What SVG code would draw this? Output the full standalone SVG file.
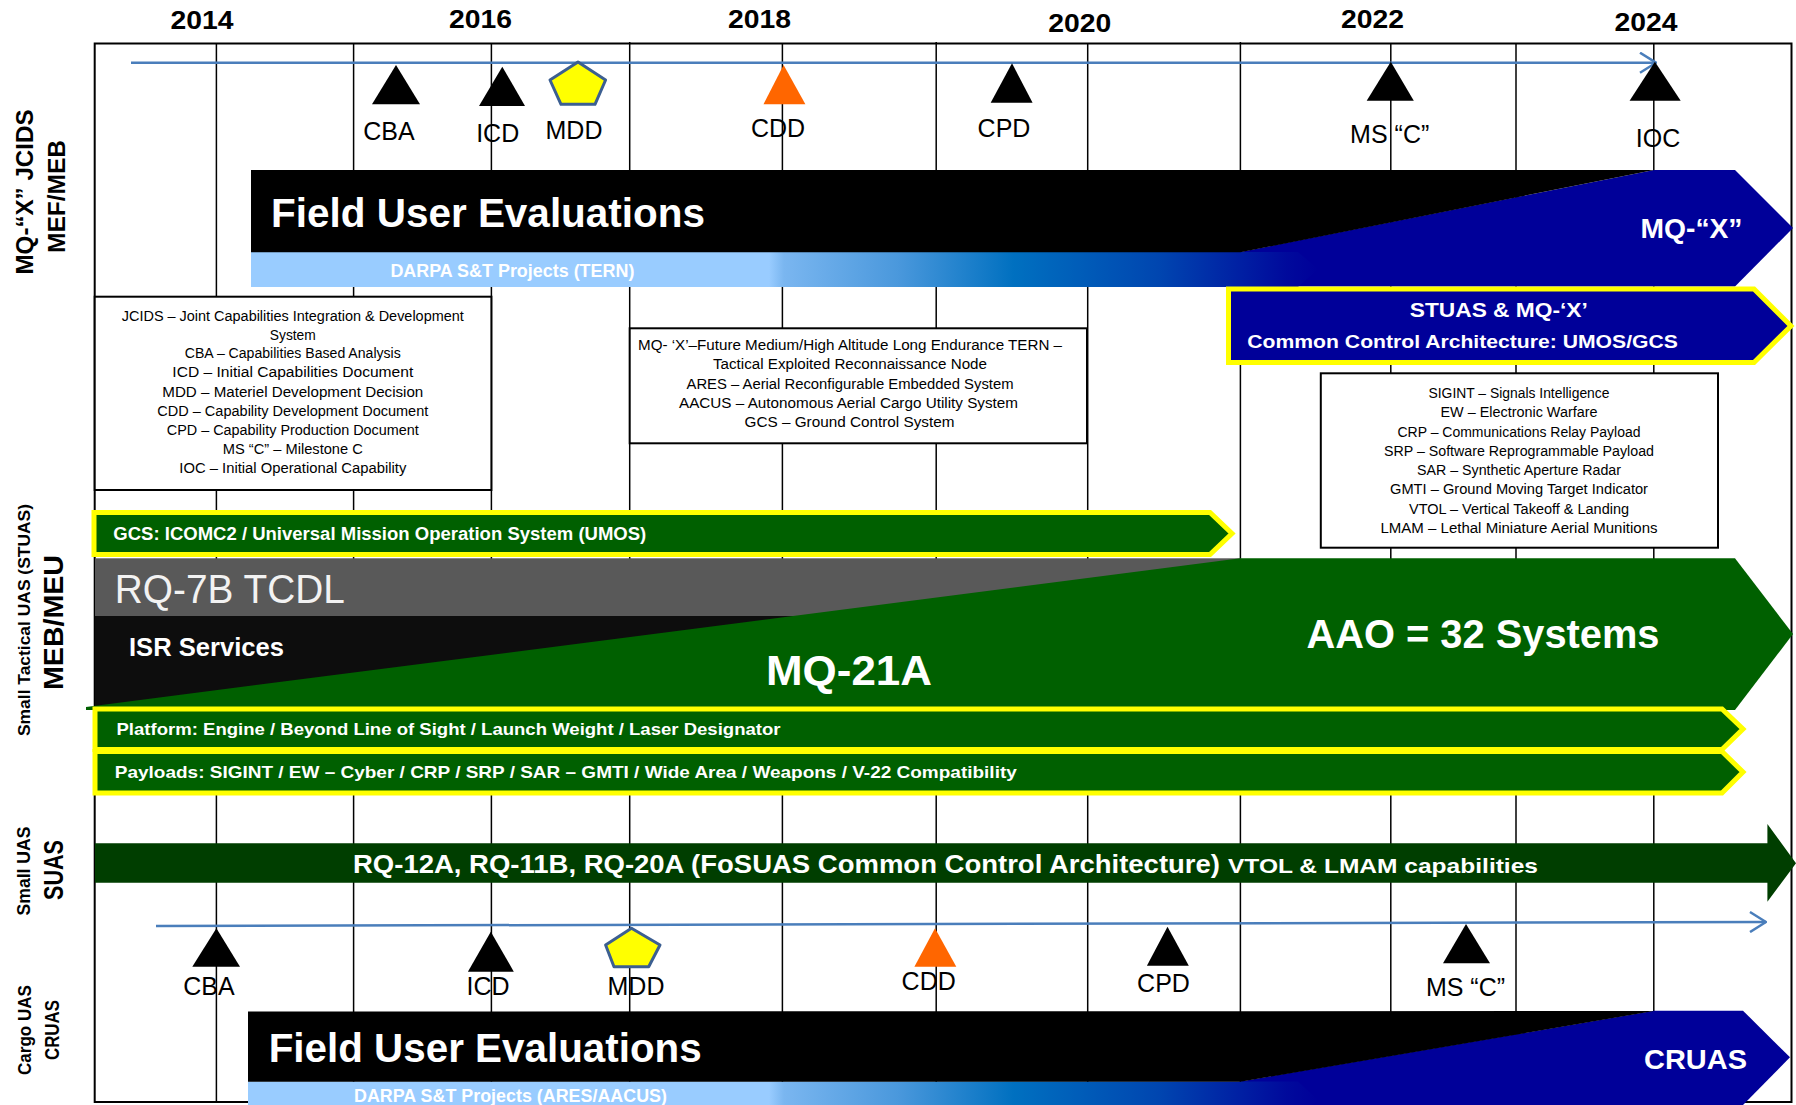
<svg xmlns="http://www.w3.org/2000/svg" width="1796" height="1105" viewBox="0 0 1796 1105">
<style>
text{font-family:"Liberation Sans",Arial,sans-serif}
.grid{stroke:#000;stroke-width:1.5}
.frame{stroke:#000;stroke-width:2;fill:none}
.tl{stroke:#4a7ebb;stroke-width:2.5;fill:none}
.ms{fill:#000}
.mso{fill:#ff6600}
.mdd{fill:#ffff00;stroke:#3c5f91;stroke-width:3;stroke-linejoin:round}
.lbl{font-size:25px;text-anchor:middle;fill:#000}
.yr{font-size:26px;font-weight:bold;text-anchor:middle;fill:#000}
.box{fill:#fff;stroke:#000;stroke-width:2}
.bt{font-size:14px;text-anchor:middle;fill:#000}
.ybar{stroke:#ffff00;stroke-width:5;fill:#006000}
.wb{fill:#fff;font-weight:bold}
.side{font-weight:bold;fill:#000;text-anchor:middle}
</style>
<defs>
<marker id="arr" viewBox="0 0 18 22" refX="17" refY="11" markerWidth="18" markerHeight="22" markerUnits="userSpaceOnUse" orient="auto">
<path d="M1,1 L17,11 L1,21" fill="none" stroke="#4a7ebb" stroke-width="2.5"/>
</marker>
<linearGradient id="darpa" gradientUnits="userSpaceOnUse" x1="250" y1="0" x2="1318" y2="0">
<stop offset="0" stop-color="#99ccff"/>
<stop offset="0.486" stop-color="#99ccff"/>
<stop offset="0.50" stop-color="#7ab6f0"/>
<stop offset="0.607" stop-color="#4a98dc"/>
<stop offset="0.715" stop-color="#0070c0"/>
<stop offset="0.85" stop-color="#0046b0"/>
<stop offset="0.97" stop-color="#000a9c"/>
<stop offset="1" stop-color="#000099"/>
</linearGradient>
</defs>
<rect width="1796" height="1105" fill="#fff"/>

<g id="grid">
<line class="grid" x1="216.4" y1="44" x2="216.4" y2="1102"/>
<line class="grid" x1="353.6" y1="44" x2="353.6" y2="1102"/>
<line class="grid" x1="491.4" y1="44" x2="491.4" y2="1102"/>
<line class="grid" x1="629.7" y1="42" x2="629.7" y2="1102"/>
<line class="grid" x1="782.4" y1="44" x2="782.4" y2="1102"/>
<line class="grid" x1="936.2" y1="42" x2="936.2" y2="1102"/>
<line class="grid" x1="1087.7" y1="44" x2="1087.7" y2="1102"/>
<line class="grid" x1="1240.4" y1="42" x2="1240.4" y2="1102"/>
<line class="grid" x1="1390.8" y1="44" x2="1390.8" y2="1102"/>
<line class="grid" x1="1516" y1="44" x2="1516" y2="1102"/>
<line class="grid" x1="1653.8" y1="44" x2="1653.8" y2="1102"/>
<rect class="frame" x="94.7" y="43.5" width="1696.8" height="1058.5"/>
</g>

<g id="years">
<text class="yr" x="202" y="29" textLength="63" lengthAdjust="spacingAndGlyphs">2014</text>
<text class="yr" x="480.5" y="28" textLength="63" lengthAdjust="spacingAndGlyphs">2016</text>
<text class="yr" x="759.5" y="28" textLength="63" lengthAdjust="spacingAndGlyphs">2018</text>
<text class="yr" x="1079.7" y="31.7" textLength="63" lengthAdjust="spacingAndGlyphs">2020</text>
<text class="yr" x="1372.5" y="28.3" textLength="63" lengthAdjust="spacingAndGlyphs">2022</text>
<text class="yr" x="1646" y="30.7" textLength="63" lengthAdjust="spacingAndGlyphs">2024</text>
</g>

<g id="side-labels">
<text class="side" x="33" y="192" font-size="24" transform="rotate(-90 33 192)" textLength="165" lengthAdjust="spacingAndGlyphs">MQ-“X” JCIDS</text>
<text class="side" x="65" y="196.5" font-size="24" transform="rotate(-90 65 196.5)" textLength="113" lengthAdjust="spacingAndGlyphs">MEF/MEB</text>
<text class="side" x="29.5" y="620" font-size="17" transform="rotate(-90 29.5 620)" textLength="232" lengthAdjust="spacingAndGlyphs">Small Tactical UAS (STUAS)</text>
<text class="side" x="63.3" y="622.5" font-size="28" transform="rotate(-90 63.3 622.5)" textLength="135" lengthAdjust="spacingAndGlyphs">MEB/MEU</text>
<text class="side" x="29.5" y="871" font-size="17.5" transform="rotate(-90 29.5 871)" textLength="89" lengthAdjust="spacingAndGlyphs">Small UAS</text>
<text class="side" x="63" y="870" font-size="27" transform="rotate(-90 63 870)" textLength="60" lengthAdjust="spacingAndGlyphs">SUAS</text>
<text class="side" x="31" y="1030" font-size="18" transform="rotate(-90 31 1030)" textLength="90" lengthAdjust="spacingAndGlyphs">Cargo UAS</text>
<text class="side" x="58.5" y="1030" font-size="21" transform="rotate(-90 58.5 1030)" textLength="60" lengthAdjust="spacingAndGlyphs">CRUAS</text>
</g>

<g id="connectors">
<line class="tl" x1="131" y1="62.7" x2="1656" y2="62.7" marker-end="url(#arr)"/>
<line class="tl" x1="156" y1="926" x2="1766" y2="922" marker-end="url(#arr)"/>
</g>

<g id="mqx-milestones">
<polygon class="ms" points="396,65 372,104.3 420,104.3"/>
<polygon class="ms" points="502.3,66.7 479,106 525,106"/>
<polygon class="mdd" points="578,62 605.6,80 595,104.3 561,104.3 550,80"/>
<polygon class="mso" points="783.6,65 763.5,104.3 805.4,104.3"/>
<polygon class="ms" points="1012,63.3 990.7,102.7 1032.6,102.7"/>
<polygon class="ms" points="1390.8,61.7 1366.7,100.7 1413.8,100.7"/>
<polygon class="ms" points="1654.9,61.7 1629.6,100.7 1680.7,100.7"/>
<text class="lbl" x="389" y="140">CBA</text>
<text class="lbl" x="497.7" y="141.7">ICD</text>
<text class="lbl" x="574" y="139.3">MDD</text>
<text class="lbl" x="778" y="136.7">CDD</text>
<text class="lbl" x="1004" y="136.7">CPD</text>
<text class="lbl" x="1389.7" y="143.3">MS “C”</text>
<text class="lbl" x="1658" y="147.3">IOC</text>
</g>

<g id="mqx-bar">
<polygon fill="#000099" points="1240,252 1654,170 1735,170 1793,228 1735,286.5 1240,286.5"/>
<polygon fill="url(#darpa)" points="251,252 1298,252 1318,269 1298,287 251,287"/>
<polygon fill="#000" points="251,170 1654,170 1240.4,252.3 251,252.3"/>
<text class="wb" x="271" y="226.7" font-size="40" textLength="434" lengthAdjust="spacingAndGlyphs">Field User Evaluations</text>
<text class="wb" x="390.4" y="276.7" font-size="18" textLength="244" lengthAdjust="spacingAndGlyphs">DARPA S&amp;T Projects (TERN)</text>
<text class="wb" x="1640.5" y="238.3" font-size="28" textLength="102" lengthAdjust="spacingAndGlyphs">MQ-“X”</text>
</g>

<g id="jcids-box">
<rect class="box" x="94.7" y="296.7" width="396.7" height="193.3"/>
<text class="bt" x="292.8" y="320.7" textLength="342" lengthAdjust="spacingAndGlyphs">JCIDS – Joint Capabilities Integration &amp; Development</text>
<text class="bt" x="292.8" y="340" textLength="46" lengthAdjust="spacingAndGlyphs">System</text>
<text class="bt" x="292.8" y="358.3" textLength="216" lengthAdjust="spacingAndGlyphs">CBA – Capabilities Based Analysis</text>
<text class="bt" x="292.8" y="377.3" textLength="241" lengthAdjust="spacingAndGlyphs">ICD – Initial Capabilities Document</text>
<text class="bt" x="292.8" y="396.7" textLength="261" lengthAdjust="spacingAndGlyphs">MDD – Materiel Development Decision</text>
<text class="bt" x="292.8" y="415.7" textLength="271" lengthAdjust="spacingAndGlyphs">CDD – Capability Development Document</text>
<text class="bt" x="292.8" y="435" textLength="252" lengthAdjust="spacingAndGlyphs">CPD – Capability Production Document</text>
<text class="bt" x="292.8" y="454.3" textLength="140" lengthAdjust="spacingAndGlyphs">MS “C” – Milestone C</text>
<text class="bt" x="292.8" y="473.3" textLength="227" lengthAdjust="spacingAndGlyphs">IOC – Initial Operational Capability</text>
</g>

<g id="mqx-acronym-box">
<rect class="box" x="629.7" y="328.3" width="457.3" height="115"/>
<text class="bt" x="850" y="350" textLength="424" lengthAdjust="spacingAndGlyphs">MQ- ‘X’–Future Medium/High Altitude Long Endurance TERN –</text>
<text class="bt" x="850" y="369.3" textLength="274" lengthAdjust="spacingAndGlyphs">Tactical Exploited Reconnaissance Node</text>
<text class="bt" x="850" y="389" textLength="327" lengthAdjust="spacingAndGlyphs">ARES – Aerial Reconfigurable Embedded System</text>
<text class="bt" x="848.5" y="408.3" textLength="339" lengthAdjust="spacingAndGlyphs">AACUS – Autonomous Aerial Cargo Utility System</text>
<text class="bt" x="849.5" y="427.3" textLength="210" lengthAdjust="spacingAndGlyphs">GCS – Ground Control System</text>
</g>

<g id="stuas-common-control">
<polygon class="ybar" style="fill:#000099" points="1228.5,289 1754,289 1791,326 1754,362.5 1228.5,362.5"/>
<text class="wb" x="1498.8" y="316.7" font-size="21" text-anchor="middle" textLength="178" lengthAdjust="spacingAndGlyphs">STUAS &amp; MQ-‘X’</text>
<text class="wb" x="1247.3" y="348.3" font-size="19" textLength="430.6" lengthAdjust="spacingAndGlyphs">Common Control Architecture:  UMOS/GCS</text>
</g>

<g id="payload-acronym-box">
<rect class="box" x="1320.8" y="373.3" width="397.2" height="174.4"/>
<text class="bt" x="1519" y="398.3" textLength="181" lengthAdjust="spacingAndGlyphs">SIGINT – Signals Intelligence</text>
<text class="bt" x="1519" y="417.3" textLength="157" lengthAdjust="spacingAndGlyphs">EW – Electronic Warfare</text>
<text class="bt" x="1519" y="436.7" textLength="243" lengthAdjust="spacingAndGlyphs">CRP – Communications Relay Payload</text>
<text class="bt" x="1519" y="456" textLength="270" lengthAdjust="spacingAndGlyphs">SRP – Software Reprogrammable Payload</text>
<text class="bt" x="1519" y="475.3" textLength="204" lengthAdjust="spacingAndGlyphs">SAR – Synthetic Aperture Radar</text>
<text class="bt" x="1519" y="494.3" textLength="258" lengthAdjust="spacingAndGlyphs">GMTI – Ground Moving Target Indicator</text>
<text class="bt" x="1519" y="513.7" textLength="220" lengthAdjust="spacingAndGlyphs">VTOL – Vertical Takeoff &amp; Landing</text>
<text class="bt" x="1519" y="532.7" textLength="277" lengthAdjust="spacingAndGlyphs">LMAM – Lethal Miniature Aerial Munitions</text>
</g>

<g id="gcs-bar">
<polygon class="ybar" points="94,512.5 1210,512.5 1232,533.5 1210,554.5 94,554.5"/>
<text class="wb" x="113.3" y="540" font-size="18" textLength="533" lengthAdjust="spacingAndGlyphs">GCS: ICOMC2 / Universal Mission Operation System (UMOS)</text>
</g>

<g id="stuas-bar">
<rect x="95" y="558.3" width="1146" height="58" fill="#595959"/>
<rect x="95" y="616" width="800" height="92" fill="#0d0d0d"/>
<polygon fill="#006000" points="86,707 1240.4,558.3 1735,558.3 1793,634 1735,710 86,710"/>
<text x="114.8" y="603.3" font-size="40" fill="#f2f2f2" textLength="230" lengthAdjust="spacingAndGlyphs">RQ-7B TCDL</text>
<text class="wb" x="129" y="656" font-size="26" textLength="155" lengthAdjust="spacingAndGlyphs">ISR Services</text>
<text class="wb" x="766" y="685" font-size="42" textLength="166" lengthAdjust="spacingAndGlyphs">MQ-21A</text>
<text class="wb" x="1306.5" y="648.3" font-size="40" textLength="353" lengthAdjust="spacingAndGlyphs">AAO = 32 Systems</text>
</g>

<g id="platform-bar">
<polygon class="ybar" points="95,709 1722,709 1743,729 1722,749.5 95,749.5"/>
<text class="wb" x="116.5" y="735" font-size="17" textLength="664" lengthAdjust="spacingAndGlyphs">Platform:  Engine / Beyond Line of Sight / Launch Weight / Laser Designator</text>
</g>

<g id="payloads-bar">
<polygon class="ybar" points="95,751.5 1722,751.5 1743,772 1722,793 95,793"/>
<text class="wb" x="114.8" y="778.3" font-size="17" textLength="902" lengthAdjust="spacingAndGlyphs">Payloads: SIGINT /  EW – Cyber / CRP / SRP / SAR – GMTI / Wide Area  / Weapons / V-22 Compatibility</text>
</g>

<g id="suas-bar">
<polygon fill="#003e00" points="95,843.3 1767.4,843.3 1767.4,824 1796,863.3 1767.4,901.7 1767.4,882.7 95,882.7"/>
<text class="wb" x="353" y="873.3" font-size="26" textLength="867" lengthAdjust="spacingAndGlyphs">RQ-12A, RQ-11B, RQ-20A (FoSUAS Common Control Architecture)</text>
<text class="wb" x="1228" y="873.3" font-size="21" textLength="310" lengthAdjust="spacingAndGlyphs">VTOL &amp; LMAM capabilities</text>
</g>

<g id="cruas-milestones">
<polygon class="ms" points="216.4,928.3 192.3,966.7 240,966.7"/>
<polygon class="ms" points="490.8,931.7 467.9,971.7 513.8,971.7"/>
<polygon class="mdd" points="631.5,928.3 660,945 648.7,966.7 614,966.7 605.6,945"/>
<polygon class="mso" points="935,928.3 914.4,966.7 956.3,966.7"/>
<polygon class="ms" points="1167.5,926.7 1146.9,965.7 1188.8,965.7"/>
<polygon class="ms" points="1466,924 1443,963.3 1490,963.3"/>
<text class="lbl" x="209" y="995">CBA</text>
<text class="lbl" x="488" y="995">ICD</text>
<text class="lbl" x="636" y="995">MDD</text>
<text class="lbl" x="928.7" y="990">CDD</text>
<text class="lbl" x="1163.5" y="991.7">CPD</text>
<text class="lbl" x="1465.5" y="996">MS “C”</text>
</g>

<g id="cruas-bar">
<polygon fill="#000099" points="1240,1081.5 1654,1010.7 1743,1010.7 1790,1057.3 1743,1105 1240,1105"/>
<polygon fill="url(#darpa)" points="248,1081.5 1298,1081.5 1318,1100 1298,1118 248,1118"/>
<polygon fill="#000" points="248,1011.5 1654,1011 1240.4,1081.7 248,1081.7"/>
<text class="wb" x="268.7" y="1061.7" font-size="40" textLength="433" lengthAdjust="spacingAndGlyphs">Field User Evaluations</text>
<text class="wb" x="354" y="1101.7" font-size="18" textLength="313" lengthAdjust="spacingAndGlyphs">DARPA S&amp;T Projects (ARES/AACUS)</text>
<text class="wb" x="1644" y="1069.3" font-size="28" textLength="103" lengthAdjust="spacingAndGlyphs">CRUAS</text>
</g>
</svg>
